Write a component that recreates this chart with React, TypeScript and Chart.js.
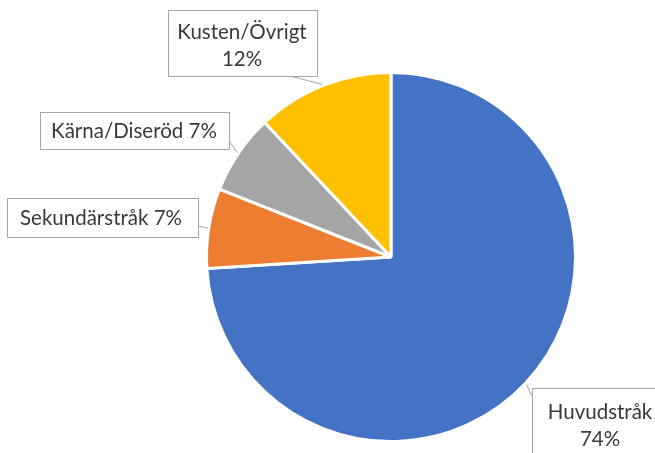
import React, { useEffect, useRef } from "react";
import { Chart, registerables } from "chart.js";

Chart.register(...registerables);

const categories = ["Huvudstråk", "Sekundärstråk", "Kärna/Diseröd", "Kusten/Övrigt"];
const shares = [74, 7, 7, 12];
const colors = ["#4472C4", "#ED7D31", "#A5A5A5", "#FFC000"];

// callout layout: box rect and text lines per category
const callouts = [
  { box: [532, 388, 140, 80], lines: ["Huvudstråk", "74%"], tx: 600, ty: 412, attach: [532, 396] },
  { box: [7, 198, 191, 39], lines: ["Sekundärstråk 7%"], tx: 101, ty: 218, attach: [198, 226] },
  { box: [40, 112, 189, 37], lines: ["Kärna/Diseröd 7%"], tx: 134, ty: 131, attach: [229, 141] },
  { box: [168, 10, 149, 66], lines: ["Kusten/Övrigt", "12%"], tx: 242, ty: 32, attach: [290, 76] },
];

const calloutPlugin = {
  id: "callouts",
  afterDraw(chart: any) {
    const ctx = chart.ctx;
    const meta = chart.getDatasetMeta(0);
    ctx.save();
    callouts.forEach((c, i) => {
      const arc = meta.data[i];
      const p = arc.getProps(["x", "y", "startAngle", "endAngle", "outerRadius"], true);
      const mid = (p.startAngle + p.endAngle) / 2;
      const ex = p.x + Math.cos(mid) * (p.outerRadius + 1);
      const ey = p.y + Math.sin(mid) * (p.outerRadius + 1);
      ctx.strokeStyle = "#A6A6A6";
      ctx.lineWidth = 1;
      ctx.beginPath();
      ctx.moveTo(c.attach[0], c.attach[1]);
      ctx.lineTo(ex, ey);
      ctx.stroke();
      const [bx, by, bw, bh] = c.box;
      ctx.fillStyle = "#FFFFFF";
      ctx.fillRect(bx, by, bw, bh);
      ctx.strokeRect(bx + 0.5, by + 0.5, bw, bh);
      ctx.fillStyle = "#3A3A3A";
      ctx.font = "20.5px Lato, 'Liberation Sans', sans-serif";
      ctx.textAlign = "center";
      ctx.textBaseline = "middle";
      const lh = 27;
      c.lines.forEach((t, j) => ctx.fillText(t, c.tx, c.ty + j * lh));
    });
    ctx.restore();
  },
};

export default function App() {
  const ref = useRef<HTMLCanvasElement>(null);
  useEffect(() => {
    const chart = new Chart(ref.current!, {
      type: "pie",
      data: {
        labels: categories,
        datasets: [
          {
            data: shares,
            backgroundColor: colors,
            borderColor: "#FFFFFF",
            borderWidth: 3,
          },
        ],
      },
      options: {
        responsive: false,
        animation: false,
        layout: { padding: { left: 205, right: 78, top: 71, bottom: 10 } },
        plugins: { legend: { display: false }, tooltip: { enabled: false } },
      },
      plugins: [calloutPlugin],
    });
    return () => chart.destroy();
  }, []);
  return (
    <div style={{ position: "absolute", left: 0, top: 0, width: 655, height: 453, background: "#fff" }}>
      <canvas ref={ref} width={655} height={453} />
    </div>
  );
}
